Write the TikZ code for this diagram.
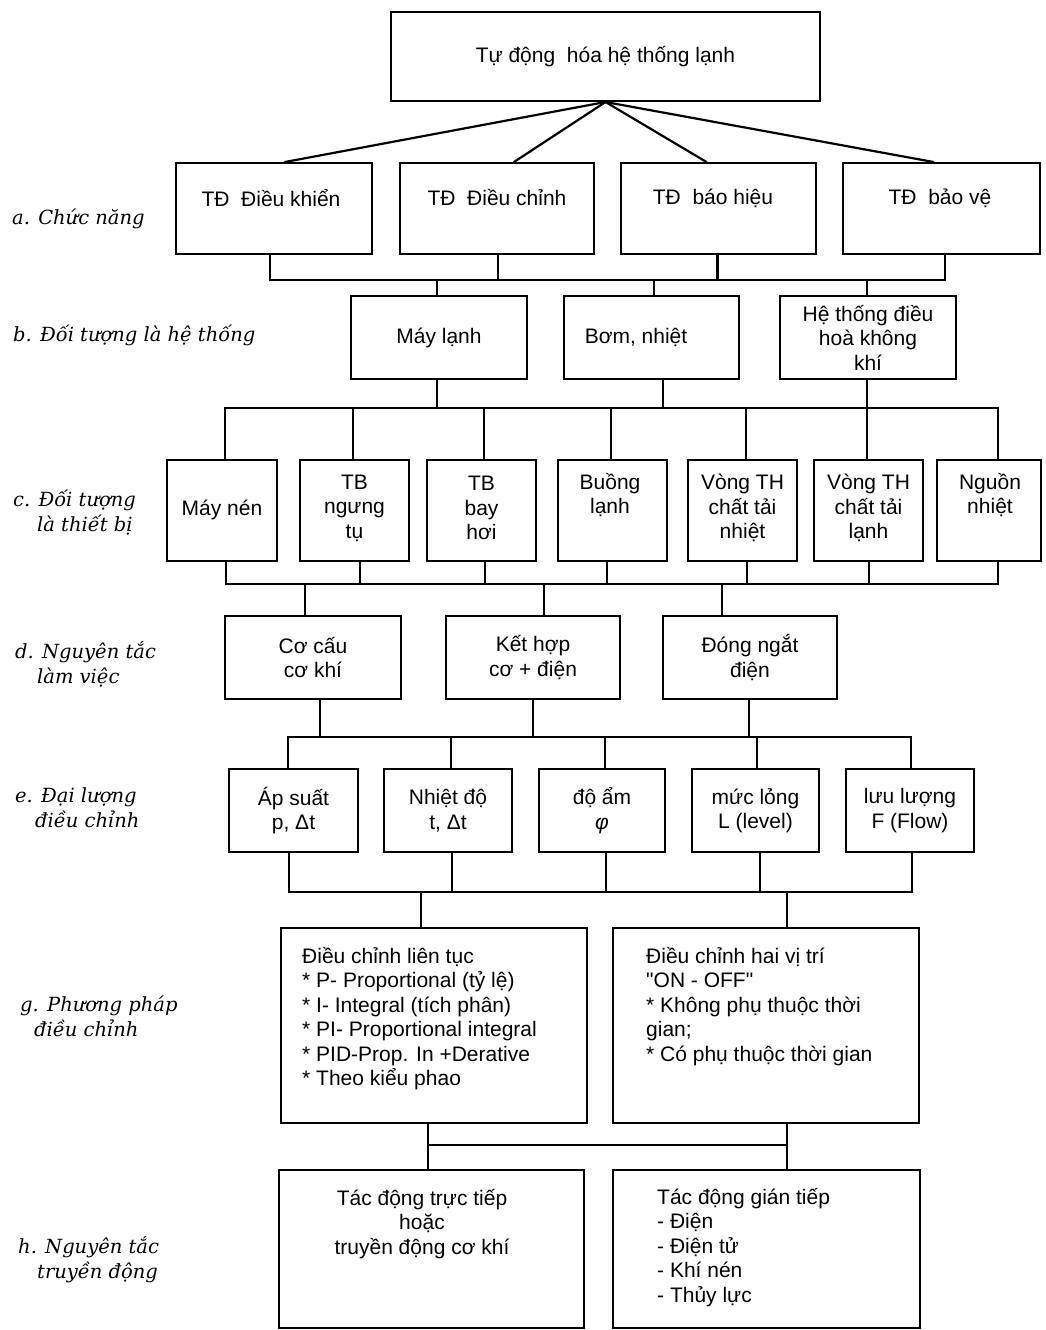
\documentclass[tikz,border=0pt]{standalone}
\usepackage{fontspec}
\setmainfont{Liberation Sans}
\newfontfamily\qfont{Liberation Sans}[Ligatures=TeXOff]
\newfontfamily\labfamily{DejaVu Serif}
\usetikzlibrary{calc}
\newcommand\boxfnt{\fontsize{21}{24.5}\selectfont}
\newcommand\labfnt{\labfamily\itshape\fontsize{19.5}{25}\selectfont}
\begin{document}
\begin{tikzpicture}[x=1pt,y=-1pt,
  box/.style={draw,line width=2pt,inner sep=0pt,font=\boxfnt,align=center},
  txt/.style={inner sep=0pt,font=\boxfnt,align=center},
  txl/.style={inner sep=0pt,font=\boxfnt,align=left,anchor=north west},
  lab/.style={inner sep=0pt,font=\labfnt,align=left,anchor=west},
  con/.style={line width=2.2pt,line cap=rect}]
\fill[white] (0,0) rectangle (1045,1330);
\useasboundingbox (0,0) rectangle (1045,1330);

% left labels
\node[lab] (la) at (12,219) {a. Chức năng};
\node[lab] (lb) at (13,335) {b. Đối tượng là hệ thống};
\node[lab] (lc) at (13,513) {c. Đối tượng\\\hspace*{24pt}là thiết bị};
\node[lab] (ld) at (15,664) {d. Nguyên tắc\\\hspace*{22pt}làm việc};
\node[lab] (le) at (15,808) {e. Đại lượng\\\hspace*{20pt}điều chỉnh};
\node[lab] (lg) at (20,1016) {g. Phương pháp\\\hspace*{14pt}điều chỉnh};
\node[lab] (lh) at (18,1260) {h. Nguyên tắc\\\hspace*{19pt}truyền động};

% top
\node[box,minimum width=429pt,minimum height=89pt] (top) at (605.5,56.5) {Tự động\ \ hóa hệ thống lạnh};

% row a
\node[box,minimum width=196pt,minimum height=91pt] (a1) at (274,208.5) {};
\node[box,minimum width=194pt,minimum height=91pt] (a2) at (497,208.5) {};
\node[box,minimum width=195pt,minimum height=91pt] (a3) at (718.5,208.5) {};
\node[box,minimum width=197pt,minimum height=91pt] (a4) at (941.5,208.5) {};
\node[txt] (ta1) at (271,198) {TĐ\ \ Điều khiển};
\node[txt] (ta2) at (497,198) {TĐ\ \ Điều chỉnh};
\node[txt] (ta3) at (713,198) {TĐ\ \ báo hiệu};
\node[txt] (ta4) at (940,198) {TĐ\ \ bảo vệ};

% row b
\node[box,minimum width=176pt,minimum height=83pt] (b1) at (439,337.5) {Máy lạnh};
\node[box,minimum width=175pt,minimum height=83pt] (b2) at (651.5,337.5) {};
\node[txt] (tb2) at (636,337) {Bơm,\ nhiệt};
\node[box,minimum width=176pt,minimum height=83pt] (b3) at (868,337.5) {Hệ thống điều\\hoà không\\khí};

% row c
\node[box,minimum width=110pt,minimum height=101pt] (c1) at (222,510.5) {};
\node[box,minimum width=109pt,minimum height=101pt] (c2) at (354.5,510.5) {};
\node[box,minimum width=109pt,minimum height=101pt] (c3) at (481.5,510.5) {};
\node[box,minimum width=109pt,minimum height=101pt] (c4) at (612.5,510.5) {};
\node[box,minimum width=109pt,minimum height=101pt] (c5) at (742.5,510.5) {};
\node[box,minimum width=109pt,minimum height=101pt] (c6) at (868.5,510.5) {};
\node[box,minimum width=104pt,minimum height=101pt] (c7) at (989,510.5) {};
\node[txt] (tc1) at (222,510) {Máy nén};
\node[txt] (tc2) at (354.5,508) {TB\\ngưng\\tụ};
\node[txt] (tc3) at (481.5,508) {TB\\bay\\hơi};
\node[txt] (tc4) at (610,495) {Buồng\\lạnh};
\node[txt] (tc5) at (742.5,508) {Vòng TH\\chất tải\\nhiệt};
\node[txt] (tc6) at (868.5,508) {Vòng TH\\chất tải\\lạnh};
\node[txt] (tc7) at (990,495) {Nguồn\\nhiệt};

% row d
\node[box,minimum width=176pt,minimum height=83pt] (d1) at (313,657.5) {Cơ cấu\\cơ khí};
\node[box,minimum width=174pt,minimum height=83pt] (d2) at (533,657.5) {Kết hợp\\cơ + điện};
\node[box,minimum width=174pt,minimum height=83pt] (d3) at (750,657.5) {Đóng ngắt\\điện};

% row e
\node[box,minimum width=129pt,minimum height=83pt] (e1) at (293.5,810.5) {Áp suất\\p, Δt};
\node[box,minimum width=128pt,minimum height=83pt] (e2) at (448,810.5) {Nhiệt độ\\t, Δt};
\node[box,minimum width=126pt,minimum height=83pt] (e3) at (602,810.5) {độ ẩm\\\textit{φ}};
\node[box,minimum width=127pt,minimum height=83pt] (e4) at (755.5,810.5) {mức lỏng\\L (level)};
\node[box,minimum width=128pt,minimum height=83pt] (e5) at (910,810.5) {lưu lượng\\F (Flow)};

% row g
\node[box,minimum width=306pt,minimum height=195pt] (g1) at (434,1025.5) {};
\node[box,minimum width=306pt,minimum height=195pt] (g2) at (766,1025.5) {};
\node[txl] (tg1) at (302,947) {Điều chỉnh liên tục\\* P- Proportional (tỷ lệ)\\* I- Integral (tích phân)\\* PI- Proportional integral\\* PID-Prop. In +Derative\\* Theo kiểu phao};
\node[txl] (tg2) at (646,947) {Điều chỉnh hai vị trí\\{\qfont"}ON - OFF{\qfont"}\\* Không phụ thuộc thời\\gian;\\* Có phụ thuộc thời gian};

% row h
\node[box,minimum width=305pt,minimum height=158pt] (h1) at (431.5,1249) {};
\node[box,minimum width=307pt,minimum height=158pt] (h2) at (766.5,1249) {};
\node[txt] (th1) at (422,1224) {Tác động trực tiếp\\hoặc\\truyền động cơ khí};
\node[txl] (th2) at (657,1188) {Tác động gián tiếp\\- Điện\\- Điện tử\\- Khí nén\\- Thủy lực};

% bus levels
\coordinate (yA) at (0,280);
\coordinate (yB) at (0,408);
\coordinate (yC) at (0,584);
\coordinate (yD) at (0,737);
\coordinate (yE) at (0,892);
\coordinate (yG) at (0,1145);

% top -> a
\foreach \n/\s in {a1/11,a2/17,a3/-12,a4/-8}
  \draw[con,line cap=round] (top.south) -- ([xshift=\s pt]\n.north);

% a -> b
\foreach \n/\s in {a1/-4,a2/1,a3/-1,a4/3.5}
  \draw[con] ([xshift=\s pt]\n.south) -- ([xshift=\s pt]\n.south |- yA);
\draw[con] ([xshift=-4pt]a1.south |- yA) -- ([xshift=3.5pt]a4.south |- yA);
\foreach \n/\s in {b1/-2,b2/2.5,b3/-1}
  \draw[con] ([xshift=\s pt]\n.north) -- ([xshift=\s pt]\n.north |- yA);

% b -> c
\foreach \n/\s in {b1/-2,b2/11.5,b3/-1}
  \draw[con] ([xshift=\s pt]\n.south) -- ([xshift=\s pt]\n.south |- yB);
\draw[con] ([xshift=3pt]c1.north |- yB) -- ([xshift=9pt]c7.north |- yB);
\foreach \n/\s in {c1/3,c2/-1.5,c3/2.5,c4/-1.5,c5/3.5,c6/-1.5,c7/9}
  \draw[con] ([xshift=\s pt]\n.north) -- ([xshift=\s pt]\n.north |- yB);

% c -> d
\foreach \n/\s in {c1/4,c2/5.5,c3/3.5,c4/-5.5,c5/4.5,c6/0.5,c7/9}
  \draw[con] ([xshift=\s pt]\n.south) -- ([xshift=\s pt]\n.south |- yC);
\draw[con] ([xshift=4pt]c1.south |- yC) -- ([xshift=9pt]c7.south |- yC);
\foreach \n/\s in {d1/-8,d2/11,d3/-28}
  \draw[con] ([xshift=\s pt]\n.north) -- ([xshift=\s pt]\n.north |- yC);

% d -> e
\foreach \n/\s in {d1/7,d2/0,d3/-1}
  \draw[con] ([xshift=\s pt]\n.south) -- ([xshift=\s pt]\n.south |- yD);
\draw[con] ([xshift=-5.5pt]e1.north |- yD) -- ([xshift=1pt]e5.north |- yD);
\foreach \n/\s in {e1/-5.5,e2/3,e3/3,e4/1.5,e5/1}
  \draw[con] ([xshift=\s pt]\n.north) -- ([xshift=\s pt]\n.north |- yD);

% e -> g
\foreach \n/\s in {e1/-4.5,e2/4,e3/4,e4/4.5,e5/2}
  \draw[con] ([xshift=\s pt]\n.south) -- ([xshift=\s pt]\n.south |- yE);
\draw[con] ([xshift=-4.5pt]e1.south |- yE) -- ([xshift=2pt]e5.south |- yE);
\foreach \n/\s in {g1/-13,g2/21}
  \draw[con] ([xshift=\s pt]\n.north) -- ([xshift=\s pt]\n.north |- yE);

% g -> h
\draw[con] ([xshift=-6pt]g1.south) -- ([xshift=-3.5pt]h1.north);
\draw[con] ([xshift=21pt]g2.south) -- ([xshift=20.5pt]h2.north);
\draw[con] ([xshift=-6pt]g1.south |- yG) -- ([xshift=21pt]g2.south |- yG);
\end{tikzpicture}
\end{document}
